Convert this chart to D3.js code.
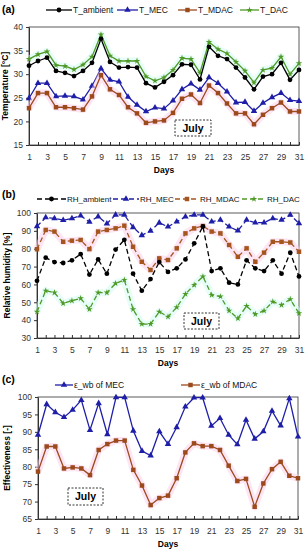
<!DOCTYPE html>
<html>
<head>
<meta charset="utf-8">
<script src="https://d3js.org/d3.v7.min.js"></script>
<style>
  body { margin: 0; background: #fff; }
  svg { display: block; }
  text { font-family: "Liberation Sans", Arial, sans-serif; }
</style>
</head>
<body>
<svg id="chart" width="307" height="550"></svg>
<script>
// ---- data ----
const days = d3.range(1, 32);

const tAmbient = [31.8, 32.8, 33.5, 30.7, 30.3, 29.6, 30.7, 32.4, 37.5, 32.6, 31.4, 31.5, 31.4, 28.1, 27.2, 28.4, 29.8, 32.1, 32.0, 28.9, 35.8, 33.9, 33.2, 31.4, 29.3, 26.8, 29.5, 30.0, 32.4, 28.8, 30.9];
const tMEC     = [24.9, 28.1, 28.1, 25.3, 25.4, 25.3, 24.6, 27.5, 31.2, 28.8, 28.4, 25.2, 23.5, 22.1, 22.9, 22.7, 24.4, 26.8, 28.0, 26.7, 29.3, 28.1, 26.3, 24.0, 24.1, 22.2, 23.9, 25.1, 26.0, 24.5, 24.3];
const tMDAC    = [22.8, 26.0, 26.0, 23.0, 23.0, 22.8, 22.5, 25.3, 29.8, 26.8, 25.6, 23.0, 21.7, 19.7, 20.0, 20.2, 21.8, 24.8, 25.7, 23.9, 27.6, 26.0, 23.8, 21.7, 21.7, 19.4, 21.4, 22.8, 24.0, 22.1, 22.1];
const tDAC     = [33.2, 34.2, 34.8, 31.9, 31.7, 31.0, 32.0, 33.7, 38.4, 33.9, 32.8, 32.8, 32.8, 29.5, 28.6, 29.3, 30.9, 33.4, 33.2, 30.3, 36.8, 35.3, 34.4, 32.6, 30.7, 28.2, 30.9, 31.3, 33.7, 30.0, 32.3];

const rhAmbient = [62, 75, 72.5, 72, 73.5, 77, 65.5, 74, 66, 79.5, 85, 66, 56.5, 63, 72.5, 67, 69, 74, 83, 92.5, 67.5, 69, 61, 60, 73.5, 69, 67.5, 73.5, 66, 77.8, 64.5];
const rhMEC     = [92.5, 97.5, 97, 96, 97, 98.5, 95, 98, 94, 99, 99, 92, 87.5, 90, 94.5, 92.3, 95.1, 97.9, 98.9, 98.9, 95.1, 96.1, 92.3, 90.1, 96.1, 94.6, 94.6, 97, 96.1, 98.9, 94.2];
const rhMDAC    = [79.7, 90.5, 89.6, 83.9, 84.5, 84.9, 79.8, 89.6, 90.5, 91.4, 92.9, 81.1, 72.7, 68.1, 74.6, 73.7, 80.2, 88.6, 91.4, 92.7, 89.6, 88.6, 82.1, 75.5, 80.2, 72.7, 77.8, 83.9, 83.9, 83.5, 78.3];
const rhDAC     = [44.7, 56.5, 55.4, 49.4, 50.9, 52.2, 46.1, 55.4, 55.4, 60.6, 62.5, 46.1, 37.8, 37.8, 44.7, 41.9, 47.2, 54.6, 59.7, 64.4, 54.1, 53.2, 45.3, 41.0, 47.9, 43.3, 45.3, 50.3, 48.5, 51.7, 43.8];

const effMEC  = [89.1, 97.9, 95.6, 94.2, 96.3, 99.1, 90.5, 98.2, 89.3, 99.9, 99.9, 90.3, 84.5, 83.2, 90.1, 86.5, 91.3, 97.2, 99.8, 99.8, 91.7, 93.9, 89.1, 86.4, 93.4, 88.0, 90.1, 96.0, 91.8, 99.6, 88.6];
const effMDAC = [78.6, 85.8, 85.8, 79.5, 79.8, 79.5, 77.6, 84.8, 86.5, 87.5, 87.5, 79.1, 74.6, 69.0, 71.0, 71.7, 76.7, 84.1, 86.7, 85.9, 85.9, 84.8, 80.3, 75.9, 76.5, 68.5, 75.2, 79.3, 81.4, 77.4, 76.7];

const tempTicks = [15, 20, 25, 30, 35, 40];
const rhTicks = [30, 40, 50, 60, 70, 80, 90, 100];
const effTicks = [65, 70, 75, 80, 85, 90, 95, 100];

// ---- styles ----
const BLACK = '#000', BLUE = '#1e1ea8', BROWN = '#9c4a1c', GREEN = '#4f9a26';
const svg = d3.select('#chart');
svg.append('rect').attr('width', 307).attr('height', 550).attr('fill', '#fff');

const sym = {
  circle: d3.symbol().type(d3.symbolCircle).size(18),
  tri: d3.symbol().type(d3.symbolTriangle).size(18),
  square: d3.symbol().type(d3.symbolSquare).size(20),
  star: d3.symbol().type(d3.symbolStar).size(13)
};

function drawSeries(g, x, y, vals, s) {
  const line = d3.line().x((d, i) => x(days[i])).y(d => y(d));
  if (s.glow) {
    g.append('path').datum(vals).attr('d', line).attr('fill', 'none')
      .attr('stroke', s.glow).attr('stroke-width', 7).attr('stroke-linejoin', 'round')
      .attr('opacity', 0.5);
  }
  g.append('path').datum(vals).attr('d', line).attr('fill', 'none')
    .attr('stroke', s.color).attr('stroke-width', 1.3)
    .attr('stroke-dasharray', s.dash || null);
  g.selectAll(null).data(vals).join('path')
    .attr('transform', (d, i) => `translate(${x(days[i])},${y(d)})`)
    .attr('d', sym[s.marker]).attr('fill', s.color);
}

function legendItem(x1, x2, y, s, label, fs = 8.5) {
  const g = svg.append('g');
  g.append('line').attr('x1', x1).attr('x2', x2).attr('y1', y).attr('y2', y)
    .attr('stroke', s.color).attr('stroke-width', 1.3).attr('stroke-dasharray', s.dash || null);
  g.append('path').attr('transform', `translate(${(x1 + x2) / 2},${y})`)
    .attr('d', sym[s.marker]).attr('fill', s.color);
  g.append('text').attr('x', x2 + 1).attr('y', y + 3).attr('font-size', fs).attr('fill', '#111').text(label);
}

function julyBox(x, y, w, h) {
  svg.append('rect').attr('x', x).attr('y', y).attr('width', w).attr('height', h)
    .attr('fill', '#fff').attr('stroke', '#000').attr('stroke-width', 0.8).attr('stroke-dasharray', '2,1.5');
  svg.append('text').attr('x', x + w / 2).attr('y', y + h / 2 + 3.5).attr('text-anchor', 'middle')
    .attr('font-family', '"Liberation Serif", "DejaVu Serif", serif').attr('font-weight', 'bold')
    .attr('font-size', 10.5).text('July');
}

function panel(o) {
  const g = svg.append('g');
  const x = d3.scaleLinear().domain([1, 31]).range([o.left, o.right]);
  const y = d3.scaleLinear().domain(o.yDomain).range([o.bottom, o.top]);

  g.append('rect').attr('x', o.left).attr('y', o.top)
    .attr('width', o.right - o.left).attr('height', o.bottom - o.top)
    .attr('fill', 'none').attr('stroke', '#333').attr('stroke-width', 0.8);

  const xa = g.append('g').attr('transform', `translate(0,${o.bottom})`)
    .call(d3.axisBottom(x).tickValues(days).tickSizeInner(-3).tickSizeOuter(0).tickPadding(8.5)
      .tickFormat(d => d % 2 ? d : ''));
  const ya = g.append('g').attr('transform', `translate(${o.left},0)`)
    .call(d3.axisLeft(y).tickValues(o.yTicks).tickSizeInner(3).tickSizeOuter(0).tickPadding(3));
  [xa, ya].forEach(a => {
    a.selectAll('text').attr('font-size', 8.5).attr('fill', '#333')
      .attr('font-family', '"Liberation Sans", Arial, sans-serif');
    a.selectAll('line, path').attr('stroke', '#333');
  });

  o.series.forEach(s => drawSeries(g, x, y, s.vals, s));

  svg.append('text').attr('x', (o.left + o.right) / 2).attr('y', o.bottom + 28)
    .attr('text-anchor', 'middle').attr('font-size', 8.5).attr('font-weight', 'bold').text('Days');
  svg.append('text')
    .attr('transform', `translate(${o.titleX},${(o.top + o.bottom) / 2}) rotate(-90)`)
    .attr('text-anchor', 'middle').attr('font-size', 8.5).attr('font-weight', 'bold').text(o.yTitle);
  svg.append('text').attr('x', 2).attr('y', o.labelY)
    .attr('font-family', '"Liberation Serif", "DejaVu Serif", serif').attr('font-weight', 'bold')
    .attr('font-size', 10.5).text(o.label);
}

// ---- (a) temperature ----
const sA = [
  { vals: tAmbient, color: BLACK, marker: 'circle' },
  { vals: tMEC, color: BLUE, marker: 'tri' },
  { vals: tMDAC, color: BROWN, marker: 'square', glow: '#fbcbea' },
  { vals: tDAC, color: GREEN, marker: 'star', glow: '#cdfbf2' }
];
panel({ left: 29, right: 299, top: 27, bottom: 145, yDomain: [15, 40], yTicks: tempTicks,
  series: [sA[3], sA[0], sA[1], sA[2]], yTitle: 'Temperature [°C]', titleX: 8, label: '(a)', labelY: 13 });
legendItem(46, 72, 10, sA[0], 'T_ambient');
legendItem(117, 138, 10, sA[1], 'T_MEC');
legendItem(178, 197, 10, sA[2], 'T_MDAC');
legendItem(240, 259, 10, sA[3], 'T_DAC');
julyBox(175, 120, 36, 16);

// ---- (b) relative humidity ----
const sB = [
  { vals: rhAmbient, color: BLACK, marker: 'circle', dash: '5,3' },
  { vals: rhMEC, color: BLUE, marker: 'tri', dash: '5,3' },
  { vals: rhMDAC, color: '#a5561f', marker: 'square', dash: '5,3', glow: '#fbcbea' },
  { vals: rhDAC, color: GREEN, marker: 'star', dash: '5,3', glow: '#cdfbf2' }
];
panel({ left: 37, right: 299, top: 213, bottom: 338, yDomain: [30, 100], yTicks: rhTicks,
  series: [sB[3], sB[2], sB[0], sB[1]], yTitle: 'Relative humidity [%]', titleX: 10, label: '(b)', labelY: 198 });
legendItem(37, 66, 199, sB[0], 'RH_ambient', 8);
legendItem(113, 139, 199, sB[1], 'RH_MEC', 8);
legendItem(175, 199, 199, sB[2], 'RH_MDAC', 8);
legendItem(242, 266, 199, sB[3], 'RH_DAC', 8);
julyBox(184, 313, 35, 16);

// ---- (c) effectiveness ----
const sC = [
  { vals: effMEC, color: BLUE, marker: 'tri' },
  { vals: effMDAC, color: BROWN, marker: 'square', glow: '#fbcbea' }
];
panel({ left: 38, right: 298, top: 397, bottom: 519, yDomain: [65, 100], yTicks: effTicks,
  series: sC, yTitle: 'Effectiveness [-]', titleX: 10, label: '(c)', labelY: 383 });
legendItem(55, 73, 385, sC[0], 'ε_wb of MEC');
legendItem(181, 200, 385, sC[1], 'ε_wb of MDAC');
julyBox(68, 488, 35, 17);
</script>
</body>
</html>
